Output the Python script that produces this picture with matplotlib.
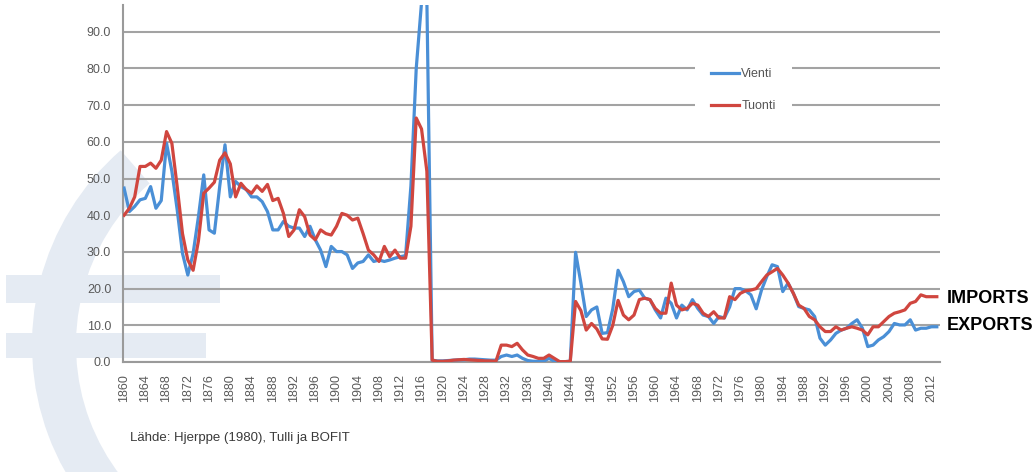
import matplotlib
matplotlib.use("Agg")
import matplotlib.pyplot as plt
from matplotlib.patches import Wedge, Rectangle

plt.rcParams['font.family'] = ['Liberation Sans', 'DejaVu Sans']

years = list(range(1860, 2014))

vienti = [
    47.4, 41.0, 42.4, 44.2, 44.6, 47.8, 41.9, 44.0, 59.6, 52.0,   # 1860-1869
    41.5, 29.6, 23.7, 29.6, 39.6, 51.0, 36.0, 35.1, 47.8, 59.2,   # 1870-1879
    45.0, 49.2, 47.8, 47.0, 45.0, 45.0, 43.7, 41.0, 36.0, 36.0,   # 1880-1889
    38.3, 37.0, 36.5, 36.5, 34.2, 37.0, 33.3, 30.5, 26.0, 31.5,   # 1890-1899
    30.1, 30.1, 29.2, 25.5, 27.0, 27.4, 29.2, 27.4, 27.8, 27.4,   # 1900-1909
    27.8, 28.3, 28.7, 29.0, 48.0, 80.0, 98.0, 99.0, 0.5, 0.3,     # 1910-1919
    0.3, 0.4, 0.5, 0.6, 0.6, 0.8, 0.8, 0.7, 0.6, 0.5,             # 1920-1929
    0.5, 1.5, 1.9, 1.5, 1.9, 1.0, 0.4, 0.2, 0.2, 0.2,             # 1930-1939
    1.0, 0.2, 0.1, 0.1, 0.2, 29.9, 21.5, 12.4, 14.2, 15.0,        # 1940-1949
    7.8, 8.0, 14.5, 25.0, 21.9, 17.8, 19.2, 19.6, 17.4, 17.0,     # 1950-1959
    14.2, 12.0, 17.4, 16.0, 12.0, 15.5, 14.2, 17.0, 14.6, 12.8,   # 1960-1969
    12.4, 10.5, 12.4, 12.0, 15.0, 20.0, 20.0, 19.4, 18.3, 14.5,   # 1970-1979
    19.6, 23.3, 26.5, 26.0, 19.2, 21.5, 18.7, 15.1, 14.6, 14.2,   # 1980-1989
    12.4, 6.5, 4.6, 6.0, 7.8, 8.7, 9.2, 10.5, 11.5, 9.2,          # 1990-1999
    4.2, 4.6, 6.0, 6.9, 8.3, 10.5, 10.1, 10.1, 11.5, 8.7,         # 2000-2009
    9.2, 9.2, 9.6, 9.6,                                           # 2010-2013
]

tuonti = [
    40.0, 41.9, 45.0, 53.3, 53.3, 54.2, 52.8, 55.0, 62.8, 59.6,   # 1860-1869
    47.8, 35.0, 27.8, 25.0, 33.0, 46.0, 47.4, 49.0, 55.0, 57.0,   # 1870-1879
    54.0, 45.0, 48.7, 47.0, 46.0, 48.0, 46.5, 48.4, 44.0, 44.6,   # 1880-1889
    40.5, 34.2, 36.0, 41.5, 39.6, 34.6, 33.3, 36.0, 35.0, 34.6,   # 1890-1899
    37.0, 40.5, 40.0, 38.7, 39.2, 35.0, 30.5, 29.2, 27.4, 31.5,   # 1900-1909
    28.7, 30.5, 28.3, 28.3, 37.0, 66.5, 63.5, 52.0, 0.5, 0.2,     # 1910-1919
    0.2, 0.3, 0.5, 0.6, 0.7, 0.6, 0.5, 0.4, 0.3, 0.3,             # 1920-1929
    0.2, 4.6, 4.6, 4.2, 5.1, 3.3, 1.9, 1.5, 1.0, 1.0,             # 1930-1939
    1.9, 1.0, 0.1, 0.1, 0.2, 16.5, 14.0, 8.7, 10.5, 9.0,          # 1940-1949
    6.3, 6.2, 10.0, 16.8, 12.8, 11.5, 12.8, 17.0, 17.4, 17.0,     # 1950-1959
    14.6, 13.3, 13.3, 21.5, 15.5, 14.2, 14.6, 16.0, 15.5, 13.3,   # 1960-1969
    12.4, 13.7, 12.0, 12.0, 17.8, 17.0, 18.7, 19.4, 19.6, 20.0,   # 1970-1979
    21.9, 23.7, 24.6, 25.5, 23.7, 21.5, 18.7, 15.5, 14.6, 12.4,   # 1980-1989
    11.5, 9.6, 8.3, 8.3, 9.6, 8.7, 9.2, 9.6, 9.2, 8.7,            # 1990-1999
    7.4, 9.6, 9.6, 11.0, 12.4, 13.3, 13.7, 14.2, 16.0, 16.5,      # 2000-2009
    18.3, 17.8, 17.8, 17.8,                                       # 2010-2013
]

x_tick_years = list(range(1860, 2013, 4))
y_ticks = [0, 10, 20, 30, 40, 50, 60, 70, 80, 90]
series_labels = ["Vienti", "Tuonti"]
source_text = "Lähde: Hjerppe (1980), Tulli ja BOFIT"

W, H = 1034, 472
fig = plt.figure(figsize=(W / 100, H / 100), dpi=100)
fig.patch.set_facecolor('white')

# faint euro-sign watermark in the background (pixel coordinates)
bg = fig.add_axes([0, 0, 1, 1], zorder=0)
bg.set_xlim(0, W)
bg.set_ylim(H, 0)
bg.axis('off')
wm = '#e5ebf3'
bg.add_patch(Wedge((290, 345), 258, 90, 229, width=44, facecolor=wm, edgecolor='none'))
bg.add_patch(Rectangle((6, 275), 214, 28, facecolor=wm, edgecolor='none'))
bg.add_patch(Rectangle((6, 333), 200, 25, facecolor=wm, edgecolor='none'))

# main axes
left, right, top, bottom = 123, 940, 5, 362
ax = fig.add_axes([left / W, 1 - bottom / H, (right - left) / W, (bottom - top) / H], zorder=1)
ax.patch.set_alpha(0)

blue = '#4a8fd6'
red = '#d0463f'
ax.plot(years, vienti, color=blue, lw=2.3, label=series_labels[0], solid_joinstyle='round', zorder=3)
ax.plot(years, tuonti, color=red, lw=2.3, label=series_labels[1], solid_joinstyle='round', zorder=4)

ax.set_ylim(0, 97.3)
ax.set_xlim(1859.8, 2013.6)
ax.set_yticks(y_ticks)
ax.set_yticklabels([f"{v:.1f}" for v in y_ticks])
ax.set_xticks(x_tick_years)
ax.set_xticklabels([str(y) for y in x_tick_years], rotation=90)

ax.grid(axis='y', color='#a3a3a3', lw=1.5)
ax.grid(axis='x', visible=False)
ax.set_axisbelow(True)
for s in ['top', 'right']:
    ax.spines[s].set_visible(False)
for s in ['left', 'bottom']:
    ax.spines[s].set_color('#9a9a9a')
    ax.spines[s].set_linewidth(1.5)

ax.tick_params(axis='y', length=0, pad=8.5, labelsize=9, labelcolor='#5a5a5a')
ax.tick_params(axis='x', length=0, pad=9, labelsize=9, labelcolor='#5a5a5a')

leg = ax.legend(loc='upper left', bbox_to_anchor=(695 / W, 1 - 52 / H),
                bbox_transform=fig.transFigure, borderaxespad=0, borderpad=1.3,
                handlelength=2.2, handletextpad=0.2, labelspacing=1.6,
                fontsize=9, frameon=True, fancybox=False, framealpha=1)
leg.get_frame().set_facecolor('white')
leg.get_frame().set_edgecolor('none')
for t in leg.get_texts():
    t.set_color('#555555')

fig.text(947 / W, 1 - 298.5 / H, "IMPORTS", fontsize=13, fontweight='bold',
         color='black', va='center', ha='left')
fig.text(947 / W, 1 - 325 / H, "EXPORTS", fontsize=13, fontweight='bold',
         color='black', va='center', ha='left')

fig.text(130 / W, 1 - 438 / H, source_text, fontsize=9.5, color='#3a3a3a',
         va='center', ha='left')

fig.savefig('out.png', dpi=100, facecolor='white')
